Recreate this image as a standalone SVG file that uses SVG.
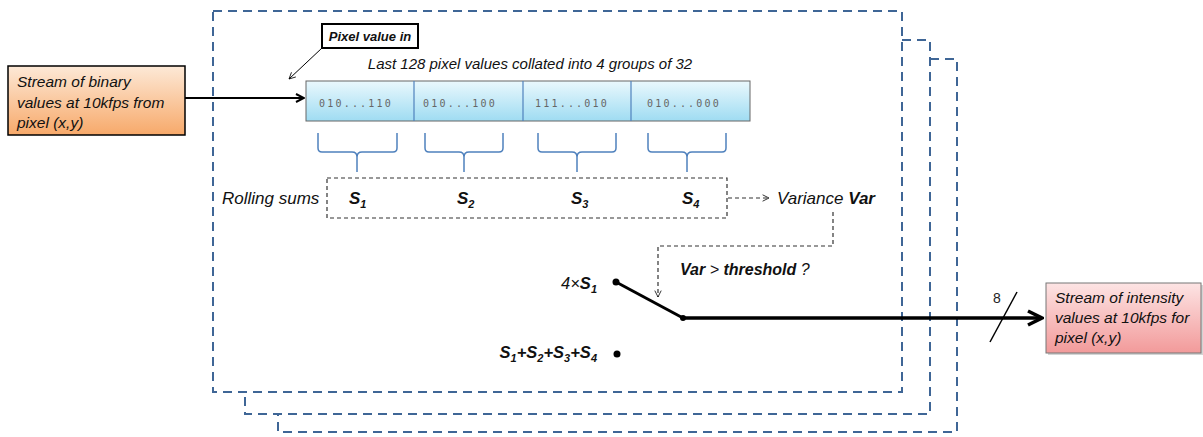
<svg xmlns="http://www.w3.org/2000/svg" width="1203" height="437" viewBox="0 0 1203 437">
<defs>
<linearGradient id="gOrange" x1="0" y1="0" x2="0" y2="1"><stop offset="0" stop-color="#fde9d7"/><stop offset="1" stop-color="#f7a96a"/></linearGradient>
<linearGradient id="gPink" x1="0" y1="0" x2="0" y2="1"><stop offset="0" stop-color="#fde4e4"/><stop offset="1" stop-color="#f29a9a"/></linearGradient>
<linearGradient id="gBlue" x1="0" y1="0" x2="0" y2="1"><stop offset="0" stop-color="#eaf8fd"/><stop offset="1" stop-color="#9fdcf2"/></linearGradient>
<marker id="arrBig" viewBox="0 0 10 10" refX="9" refY="5" markerWidth="5" markerHeight="5" orient="auto" markerUnits="strokeWidth"><path d="M1,1 L9,5 L1,9" fill="none" stroke="#000" stroke-width="2"/></marker>
<marker id="arrSmall" viewBox="0 0 10 10" refX="9" refY="5" markerWidth="8" markerHeight="8" orient="auto" markerUnits="userSpaceOnUse"><path d="M1,1 L9,5 L1,9" fill="none" stroke="#000" stroke-width="1"/></marker>
</defs>
<style>
.t{font-family:"Liberation Sans",Arial,sans-serif;font-style:italic;font-size:15.5px;fill:#111}
.b{font-weight:bold}
.big{font-size:17px}
.mid{font-size:16.5px}
.sub{font-size:11px}
.frame{fill:none;stroke:#3f6696;stroke-width:2;stroke-dasharray:9,6}
.brace{fill:none;stroke:#4f81bd;stroke-width:1.5}
.bits{font-family:"DejaVu Sans Mono",monospace;font-size:10px;fill:#666;letter-spacing:2.2px}
.dash{fill:none;stroke:#333;stroke-width:1.2;stroke-dasharray:4,3}
</style>
<g id="frames">
<polyline class="frame" points="902,40 930,40 930,414 245,414 245,392"/>
<polyline class="frame" points="930,59 957,59 957,432 278,432 278,414"/>
<rect class="frame" x="213" y="11" width="689" height="381"/>
</g>
<g id="connectors">
<line x1="185" y1="98" x2="304" y2="98" stroke="#000" stroke-width="2" marker-end="url(#arrBig)"/>
<line x1="322" y1="48" x2="289" y2="79" stroke="#000" stroke-width="1" marker-end="url(#arrSmall)"/>
<line class="dash" x1="728" y1="198" x2="769" y2="198" marker-end="url(#arrSmall)"/>
<polyline class="dash" points="833,212 833,246 658,246 658,297" marker-end="url(#arrSmall)"/>
<line x1="616" y1="282" x2="683" y2="318" stroke="#000" stroke-width="3"/>
<line x1="683" y1="318" x2="1042" y2="318" stroke="#000" stroke-width="3.5" marker-end="url(#arrBig)"/>
<line x1="990" y1="342" x2="1017" y2="292" stroke="#000" stroke-width="1.5"/>
<circle cx="616" cy="282" r="3.5" fill="#000"/>
<circle cx="683" cy="318" r="3" fill="#000"/>
<circle cx="617" cy="354" r="3.5" fill="#000"/>
</g>
<g id="input">
<rect x="8" y="66" width="177" height="69" fill="url(#gOrange)" stroke="#000" stroke-width="1.5"/>
<text class="t" x="17" y="87">Stream of binary</text>
<text class="t" x="17" y="108">values at 10kfps from</text>
<text class="t" x="17" y="128">pixel (x,y)</text>
</g>
<g id="pixelin">
<rect x="322" y="24" width="96" height="24" fill="#fff" stroke="#000" stroke-width="2"/>
<text class="t b" x="370" y="41" text-anchor="middle" style="font-size:13px">Pixel value in</text>
</g>
<g id="buffer">
<text class="t" x="530" y="69" text-anchor="middle" style="font-size:15px">Last 128 pixel values collated into 4 groups of 32</text>
<rect x="306" y="81" width="444" height="40" fill="url(#gBlue)" stroke="#666" stroke-width="1"/>
<line x1="414" y1="81" x2="414" y2="121" stroke="#4f81bd" stroke-width="1.2"/>
<line x1="523" y1="81" x2="523" y2="121" stroke="#4f81bd" stroke-width="1.2"/>
<line x1="631" y1="81" x2="631" y2="121" stroke="#4f81bd" stroke-width="1.2"/>
<text class="bits" x="319" y="107">010...110</text>
<text class="bits" x="423" y="107">010...100</text>
<text class="bits" x="535" y="107">111...010</text>
<text class="bits" x="647" y="107">010...000</text>
</g>
<g id="braces">
<path class="brace" d="M318,133 V148 Q318,152 322,152 H352 Q357,152 357,157 V172 M357,157 Q357,152 362,152 H393 Q397,152 397,148 V133"/>
<path class="brace" d="M425,133 V148 Q425,152 429,152 H459 Q464,152 464,157 V172 M464,157 Q464,152 469,152 H499 Q503,152 503,148 V133"/>
<path class="brace" d="M538,133 V148 Q538,152 542,152 H572 Q577,152 577,157 V172 M577,157 Q577,152 582,152 H612 Q616,152 616,148 V133"/>
<path class="brace" d="M648,133 V148 Q648,152 652,152 H682 Q687,152 687,157 V172 M687,157 Q687,152 692,152 H722 Q726,152 726,148 V133"/>
</g>
<g id="sums">
<text class="t big" x="222" y="204">Rolling sums</text>
<rect class="dash" x="327" y="178" width="400" height="40"/>
<text class="t b big" x="349" y="204">S<tspan class="sub" dy="4">1</tspan></text>
<text class="t b big" x="457" y="204">S<tspan class="sub" dy="4">2</tspan></text>
<text class="t b big" x="571" y="204">S<tspan class="sub" dy="4">3</tspan></text>
<text class="t b big" x="682" y="204">S<tspan class="sub" dy="4">4</tspan></text>
</g>
<g id="variance">
<text class="t big" x="777" y="204">Variance <tspan class="b">Var</tspan></text>
</g>
<g id="switch">
<text class="t" x="680" y="275" style="font-size:16px"><tspan class="b">Var</tspan> &gt; <tspan class="b">threshold</tspan> ?</text>
<text class="t mid" x="597" y="289" text-anchor="end">4×<tspan class="b">S</tspan><tspan class="b sub" dy="4">1</tspan></text>
<text class="t b mid" x="597" y="358" text-anchor="end">S<tspan class="sub" dy="4">1</tspan><tspan dy="-4">+S</tspan><tspan class="sub" dy="4">2</tspan><tspan dy="-4">+S</tspan><tspan class="sub" dy="4">3</tspan><tspan dy="-4">+S</tspan><tspan class="sub" dy="4">4</tspan></text>
<text x="993" y="303" font-family="Liberation Sans,Arial,sans-serif" font-size="14" fill="#222">8</text>
</g>
<g id="output">
<rect x="1048" y="285" width="155" height="70" fill="#aaa" opacity="0.5"/>
<rect x="1046" y="283" width="155" height="70" fill="url(#gPink)" stroke="#777" stroke-width="1"/>
<text class="t" x="1055" y="303">Stream of intensity</text>
<text class="t" x="1055" y="323">values at 10kfps for</text>
<text class="t" x="1055" y="343">pixel (x,y)</text>
</g>
</svg>
